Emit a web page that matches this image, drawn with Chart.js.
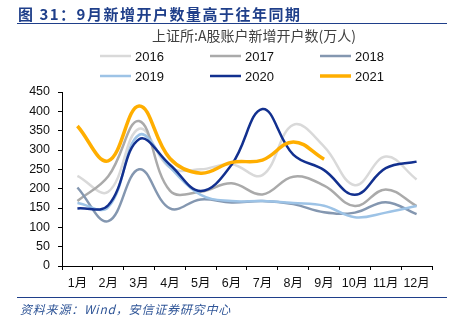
<!DOCTYPE html>
<html>
<head>
<meta charset="utf-8">
<script src="https://cdn.jsdelivr.net/npm/chart.js@4"></script>
<style>
  html, body { margin: 0; padding: 0; background: #fff; }
  #wrap { width: 457px; height: 328px; }
</style>
</head>
<body>
<div id="wrap"><canvas id="accounts" width="457" height="328"></canvas></div>
<script>
var months = ["1月", "2月", "3月", "4月", "5月", "6月", "7月", "8月", "9月", "10月", "11月", "12月"]
var yearLabels = ["2016", "2017", "2018", "2019", "2020", "2021"]

// new accounts, 10k people
var v2016 = [233, 192, 355, 255, 250, 263, 235, 365, 309, 209, 283, 224]
var v2017 = [168, 232, 375, 195, 192, 214, 185, 231, 208, 155, 198, 155]
var v2018 = [203, 116, 250, 149, 172, 164, 168, 160, 139, 138, 165, 134]
var v2019 = [163, 152, 339, 255, 184, 168, 168, 163, 156, 126, 138, 155]
var v2020 = [149, 157, 328, 262, 194, 262, 406, 288, 248, 184, 253, 270]
var v2021 = [362, 272, 414, 278, 240, 268, 274, 321, 276]

var yTicks = [0, 50, 100, 150, 200, 250, 300, 350, 400, 450]

var C2016 = "#D9D9D9"
var C2017 = "#AAAAAA"
var C2018 = "#8497B0"
var C2019 = "#9DC3E6"
var C2020 = "#12308F"
var C2021 = "#FFAE00"
var NAVY = "#1F3F8A"

var NUM_FONT = "'Liberation Sans', 'Noto Sans CJK SC', sans-serif"
var CJK_FONT = "'Noto Sans CJK SC', 'Liberation Sans', sans-serif"

function series(i, data, color, width, order) {
  return {
    label: yearLabels[i],
    data: data,
    borderColor: color,
    backgroundColor: color,
    borderWidth: width,
    pointRadius: 0,
    tension: 0.4,
    fill: false,
    order: order
  }
}

// header, legend and footer are painted around the chart area
var decorations = {
  id: "decorations",
  afterDraw: function (chart) {
    var g = chart.ctx
    g.save()

    // report caption + rule
    g.fillStyle = NAVY
    g.font = "bold 15px " + CJK_FONT
    g.textBaseline = "middle"
    g.textAlign = "left"
    g.letterSpacing = "1.5px"
    g.fillText("图 31：9月新增开户数量高于往年同期", 18, 14)
    g.letterSpacing = "0px"
    g.strokeStyle = NAVY
    g.lineWidth = 1
    g.beginPath()
    g.moveTo(17, 23.5)
    g.lineTo(447, 23.5)
    g.stroke()

    // chart title
    g.fillStyle = "#404040"
    g.font = "14px " + CJK_FONT
    g.textAlign = "center"
    g.fillText("上证所:A股账户新增开户数(万人)", 254, 36)

    // legend, three per row
    var cols = [100, 210, 320]
    var rows = [56, 76]
    g.font = "13px " + NUM_FONT
    g.textAlign = "left"
    chart.data.datasets.forEach(function (ds, i) {
      var x = cols[i % 3]
      var y = rows[Math.floor(i / 3)]
      g.strokeStyle = ds.borderColor
      g.lineWidth = ds.borderWidth
      g.beginPath()
      g.moveTo(x, y)
      g.lineTo(x + 31, y)
      g.stroke()
      g.fillStyle = "#111"
      g.fillText(ds.label, x + 35, y + 1)
    })

    // source line
    g.strokeStyle = NAVY
    g.lineWidth = 1
    g.beginPath()
    g.moveTo(17, 297.5)
    g.lineTo(447, 297.5)
    g.stroke()
    g.fillStyle = "#2F5597"
    g.font = "italic 12px " + CJK_FONT
    g.letterSpacing = "0.8px"
    g.fillText("资料来源：Wind，安信证券研究中心", 20, 309)
    g.letterSpacing = "0px"

    g.restore()
  }
}

var ctx = document.getElementById("accounts")
var chart = new Chart(ctx, {
  type: "line",
  data: {
    labels: months,
    datasets: [
      series(0, v2016, C2016, 2.5, 5),
      series(1, v2017, C2017, 2.5, 4),
      series(2, v2018, C2018, 2.5, 3),
      series(3, v2019, C2019, 2.5, 2),
      series(4, v2020, C2020, 2.5, 1),
      series(5, v2021, C2021, 3.5, 0)
    ]
  },
  options: {
    responsive: false,
    animation: false,
    layout: { padding: { left: 0, right: 25, top: 92, bottom: 40 } },
    plugins: {
      legend: { display: false },
      tooltip: { enabled: false }
    },
    scales: {
      x: {
        type: "category",
        offset: true,
        grid: {
          offset: true,
          drawOnChartArea: false,
          drawTicks: true,
          tickLength: 4,
          color: "#000",
          lineWidth: 1
        },
        border: { display: true, color: "#000", width: 1 },
        ticks: {
          color: "#111",
          font: { family: NUM_FONT, size: 12.5 },
          padding: 6,
          maxRotation: 0,
          autoSkip: false
        },
        afterFit: function (s) { s.height = 22 }
      },
      y: {
        min: 0,
        max: 450,
        afterBuildTicks: function (s) {
          s.ticks = yTicks.map(function (v) { return { value: v } })
        },
        grid: {
          drawOnChartArea: false,
          drawTicks: true,
          tickLength: 4,
          color: "#000",
          lineWidth: 1
        },
        border: { display: true, color: "#000", width: 1 },
        ticks: {
          color: "#111",
          font: { family: NUM_FONT, size: 12.5 },
          padding: 8
        },
        afterFit: function (s) { s.width = 62 }
      }
    }
  },
  plugins: [decorations]
})
</script>
</body>
</html>
